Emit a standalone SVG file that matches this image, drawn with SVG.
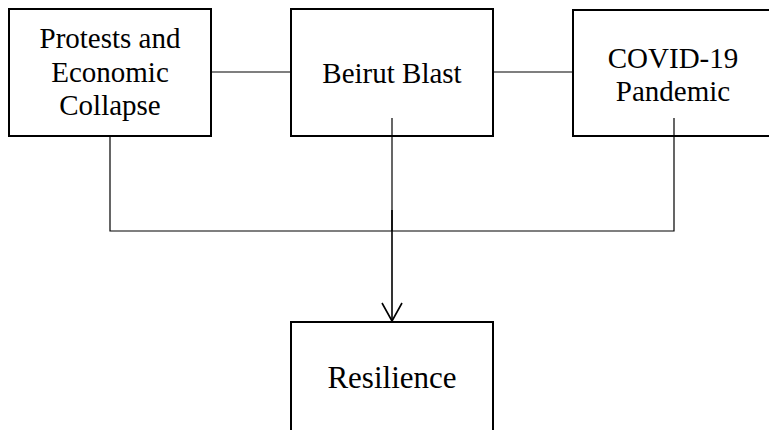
<svg xmlns="http://www.w3.org/2000/svg" width="769" height="430" viewBox="0 0 769 430">
<style>
.box{fill:#fff;stroke:#000;stroke-width:2}
.t{font-family:"Liberation Serif","Times New Roman",serif;font-size:29px;fill:#000;text-anchor:middle}
.c{fill:none;stroke:#000;stroke-width:1.2}
</style>
<rect width="769" height="430" fill="#fff"/>
<g id="node-protests">
<rect class="box" x="9" y="9" width="202" height="127"/>
<text class="t" x="110" y="48">Protests and</text>
<text class="t" x="110" y="82">Economic</text>
<text class="t" x="110" y="115">Collapse</text>
</g>
<g id="node-beirut">
<rect class="box" x="291" y="9" width="202" height="127"/>
<text class="t" x="392" y="83">Beirut Blast</text>
</g>
<g id="node-covid">
<rect class="box" x="573" y="10" width="202" height="126"/>
<text class="t" x="673" y="68">COVID-19</text>
<text class="t" x="673" y="101">Pandemic</text>
</g>
<g id="node-resilience">
<rect class="box" x="291" y="322" width="202" height="130"/>
<text class="t" x="392" y="388" style="font-size:31px">Resilience</text>
</g>
<g id="connectors">
<line class="c" x1="211" y1="72" x2="291" y2="72"/>
<line class="c" x1="493" y1="72" x2="573" y2="72"/>
<polyline class="c" points="110,136 110,231 674,231 674,118"/>
<line class="c" x1="392" y1="118" x2="392" y2="231"/>
<line class="c" x1="392" y1="210" x2="392" y2="321" style="stroke-width:1.6"/>
<polyline class="c" points="382,303 392,321 402,303" style="stroke-width:1.6"/>
</g>
</svg>
